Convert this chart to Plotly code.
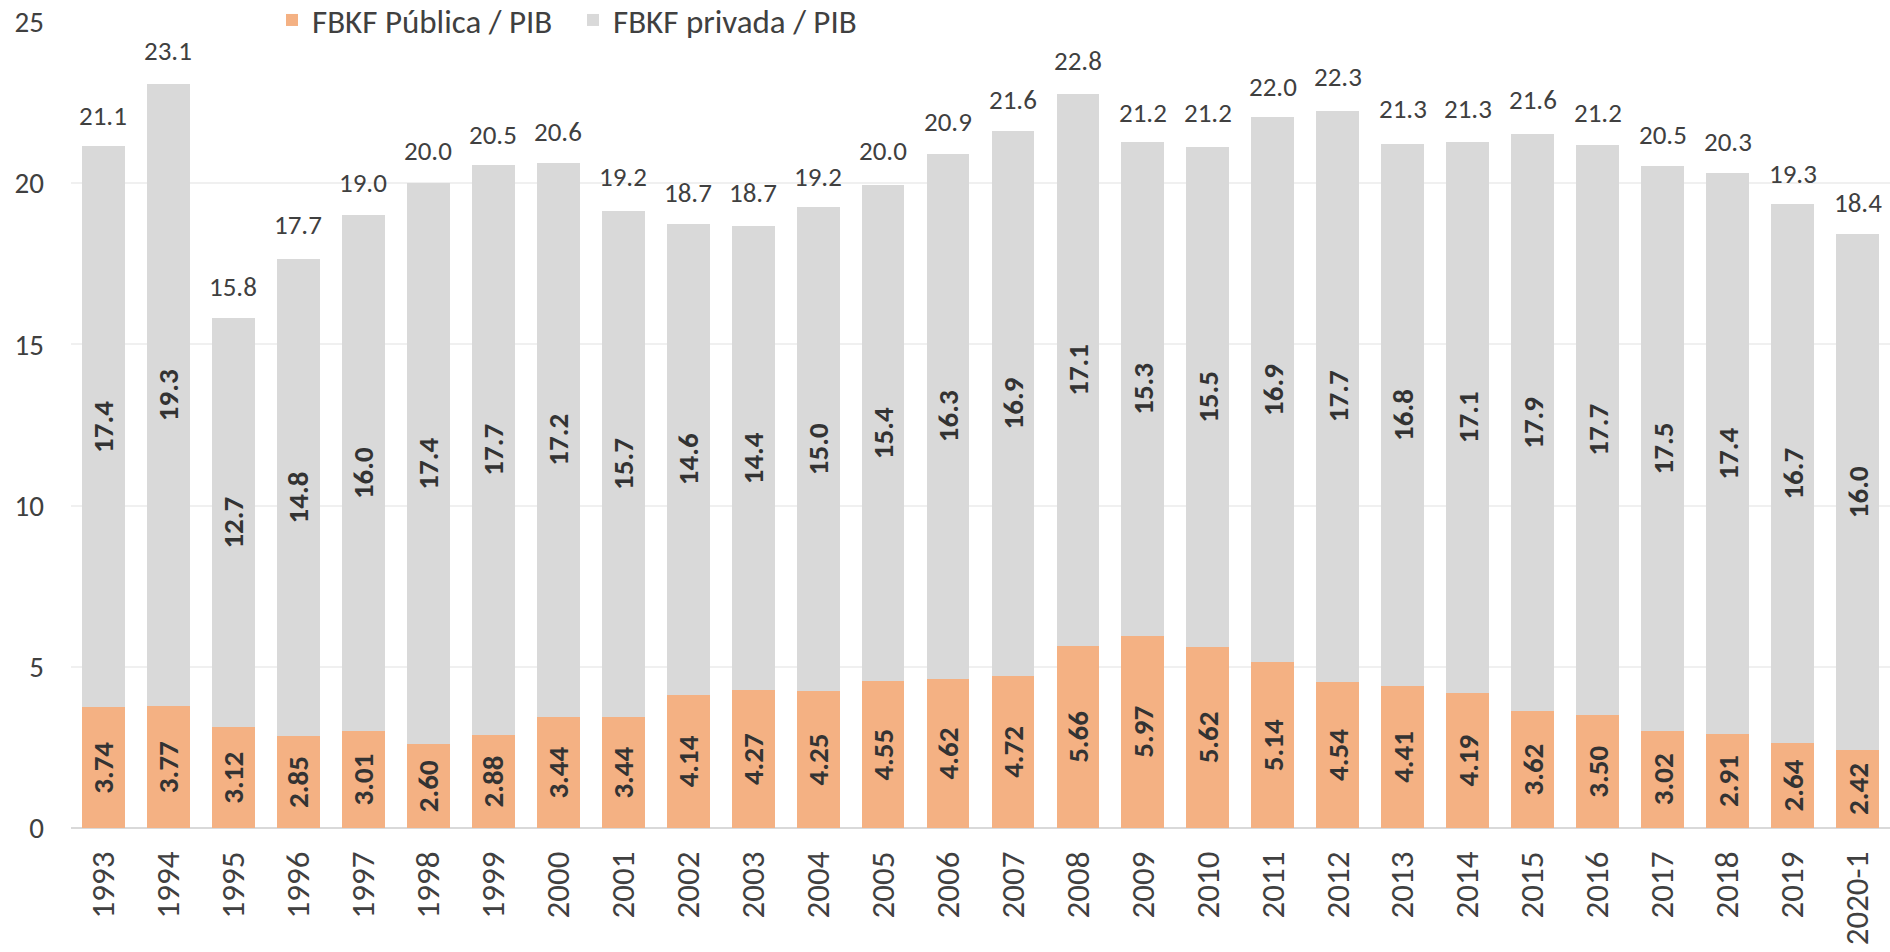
import plotly.graph_objects as go

years = ["1993", "1994", "1995", "1996", "1997", "1998", "1999", "2000", "2001", "2002",
         "2003", "2004", "2005", "2006", "2007", "2008", "2009", "2010", "2011", "2012",
         "2013", "2014", "2015", "2016", "2017", "2018", "2019", "2020-1"]
publica = [3.74, 3.77, 3.12, 2.85, 3.01, 2.60, 2.88, 3.44, 3.44, 4.14,
           4.27, 4.25, 4.55, 4.62, 4.72, 5.66, 5.97, 5.62, 5.14, 4.54,
           4.41, 4.19, 3.62, 3.50, 3.02, 2.91, 2.64, 2.42]
privada = [17.4, 19.3, 12.7, 14.8, 16.0, 17.4, 17.7, 17.2, 15.7, 14.6,
           14.4, 15.0, 15.4, 16.3, 16.9, 17.1, 15.3, 15.5, 16.9, 17.7,
           16.8, 17.1, 17.9, 17.7, 17.5, 17.4, 16.7, 16.0]
total = [21.1, 23.1, 15.8, 17.7, 19.0, 20.0, 20.5, 20.6, 19.2, 18.7,
         18.7, 19.2, 20.0, 20.9, 21.6, 22.8, 21.2, 21.2, 22.0, 22.3,
         21.3, 21.3, 21.6, 21.2, 20.5, 20.3, 19.3, 18.4]

FONT = "Carlito, Calibri, Lato, sans-serif"
TXT = "#404040"

fig = go.Figure()
fig.add_trace(go.Bar(
    x=years, y=publica, name="FBKF Pública / PIB",
    marker=dict(color="#F4B183", line=dict(width=0)),
    text=[f"{v:.2f}" for v in publica], textposition="inside",
    insidetextanchor="middle", textangle=-90,
    textfont=dict(family=FONT, size=29, color="#333333", weight="bold"),
))
fig.add_trace(go.Bar(
    x=years, y=privada, name="FBKF privada / PIB",
    marker=dict(color="#D9D9D9", line=dict(width=0)),
    text=[f"{v:.1f}" for v in privada], textposition="inside",
    insidetextanchor="middle", textangle=-90,
    textfont=dict(family=FONT, size=29, color="#333333", weight="bold"),
))

for i, t in enumerate(total):
    fig.add_annotation(x=i, y=t, xref="x", yref="y", text=f"{t:.1f}", showarrow=False,
                       yanchor="bottom", yshift=14,
                       font=dict(family=FONT, size=27, color=TXT))

fig.update_layout(
    barmode="stack", bargap=0.34,
    width=1890, height=952,
    margin=dict(l=71, r=0, t=22, b=124, autoexpand=False),
    plot_bgcolor="white", paper_bgcolor="white",
    font=dict(family=FONT, color=TXT),
    uniformtext=dict(minsize=10, mode="show"),
    legend=dict(orientation="h", x=0.1105, y=1.0372, xanchor="left", yanchor="top",
                bgcolor="rgba(0,0,0,0)", font=dict(family=FONT, size=33, color=TXT),
                traceorder="normal", entrywidth=256),
    xaxis=dict(type="category", categoryorder="array", categoryarray=years,
               range=[-0.5, len(years) - 0.5], automargin=False,
               tickangle=-90, tickfont=dict(family=FONT, size=33, color=TXT),
               showgrid=False, showline=False, ticks="", ticklabelstandoff=16),
    yaxis=dict(range=[0, 25], dtick=5, tickfont=dict(family=FONT, size=29, color=TXT),
               showgrid=True, gridcolor="#F0F0F0", gridwidth=1.5, automargin=False,
               ticklabeloverflow="allow",
               zeroline=True, zerolinecolor="#D9D9D9", zerolinewidth=2,
               showline=False, ticks="", ticklabelstandoff=26),
)

fig.write_html("out.html", config={"displayModeBar": False},
               post_script="document.body.style.margin='0';")
